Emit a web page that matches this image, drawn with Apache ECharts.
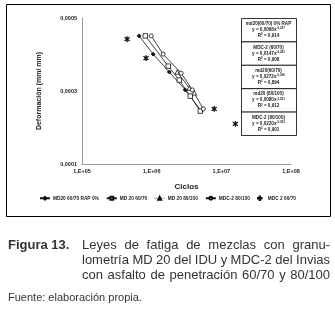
<!DOCTYPE html>
<html><head><meta charset="utf-8">
<script src="https://cdn.jsdelivr.net/npm/echarts@6/dist/echarts.min.js"></script>
<style>html,body{margin:0;padding:0;background:#fff}#c{width:335px;height:312px}</style>
</head><body><div id="c"></div>
<script>
var seriesNames = ['MD20 60/70 RAP 0%', 'MD 20 60/70', 'MD 20 80/100', 'MDC-2 80/100', 'MDC 2 60/70'];
var rap0 = [[6.6e5, 0.000451], [1.05e6, 0.000401], [1.79e6, 0.000352], [3.03e6, 0.000303], [5.15e6, 0.000245]];
var md2060 = [[8.1e5, 0.000451], [1.73e6, 0.000368], [2.49e6, 0.000330], [3.58e6, 0.000286], [4.99e6, 0.000245]];
var md2080 = [[2.33e6, 0.000352], [3.47e6, 0.000308], [4.09e6, 0.000295]];
var mdc280 = [[9.85e5, 0.000451], [1.46e6, 0.000401], [2.65e6, 0.000349], [3.83e6, 0.000303], [5.51e6, 0.000251]];
var mdc260 = [[4.44e5, 0.000442], [8.3e5, 0.000390], [7.9e6, 0.000251], [1.59e7, 0.000210]];
var yTicks = [0.0001, 0.0003, 0.0005];
var boxTitles = ['md20(60/70) 0% RAP', 'MDC-2 (60/70)', 'md20(60/70)', 'md20 (80/100)', 'MDC-2 (80/100)'];
var boxCoef = ['0,0068', '0,0147', '0,0272', '0,0080', '0,0220'];
var boxExp = ['-0,227', '-0,281', '-0,306', '-0,251', '-0,303'];
var boxR2 = ['0,914', '0,908', '0,894', '0,912', '0,901'];
var captionLines = ['Leyes de fatiga de mezclas con granu-', 'lometría MD 20 del IDU y MDC-2 del Invias', 'con asfalto de penetración 60/70 y 80/100'];

var chart = echarts.init(document.getElementById('c'));
var F = 'Liberation Sans, Arial, sans-serif';
var ast = 'path://M4.4,0h1.2v10h-1.2z M0.2,2.2 L0.8,1.2 L9.8,7.8 L9.2,8.8z M0.2,7.8 L0.8,8.8 L9.8,2.2 L9.2,1.2z';

var graphics = [
  {type:'rect', shape:{x:6.5, y:4.5, width:324, height:212}, style:{fill:'none', stroke:'#000', lineWidth:1}, silent:true},
];
var bx = 241, by = 18, bw = 55, ch = 23.4;
for (var i = 0; i < 5; i++) {
  graphics.push({type:'rect', shape:{x:bx+0.5, y:by+i*ch+0.5, width:bw, height:ch}, style:{fill:'#fff', stroke:'#000', lineWidth:0.8}, z:10});
  graphics.push({type:'text', x:bx+bw/2, y:by+i*ch+3.5, z:11, style:{text:boxTitles[i], font:'bold 4.6px ' + F, fill:'#222', align:'center'}});
  graphics.push({type:'text', x:bx+bw/2, y:by+i*ch+9, z:11, style:{
    text:'{a|y = ' + boxCoef[i] + 'x}{s|' + boxExp[i] + '}', align:'center', fill:'#222',
    rich:{a:{font:'bold 4.6px ' + F, fill:'#222'}, s:{font:'bold 3px ' + F, fill:'#222', verticalAlign:'top', padding:[0,0,3,0]}}}});
  graphics.push({type:'text', x:bx+bw/2, y:by+i*ch+15, z:11, style:{
    text:'{a|R}{s|2}{a| = ' + boxR2[i] + '}', align:'center', fill:'#222',
    rich:{a:{font:'bold 4.6px ' + F, fill:'#222'}, s:{font:'bold 3px ' + F, fill:'#222', padding:[0,0,3,0]}}}});
}
var capFont = '13px ' + F;
graphics.push({type:'text', x:8, y:239, style:{text:'Figura 13.', font:'bold 13px ' + F, fill:'#333'}});
var cv = document.createElement('canvas').getContext('2d');
cv.font = capFont;
var capLeft = 82, capRight = 330;
for (var j = 0; j < captionLines.length; j++) {
  var words = captionLines[j].split(' ');
  var widths = words.map(function(w){ return cv.measureText(w).width; });
  var total = widths.reduce(function(a,b){return a+b;}, 0);
  var gap = (capRight - capLeft - total) / (words.length - 1);
  var xx = capLeft;
  for (var k = 0; k < words.length; k++) {
    graphics.push({type:'text', x:xx, y:239 + j*15, style:{text:words[k], font:capFont, fill:'#333'}});
    xx += widths[k] + gap;
  }
}
graphics.push({type:'text', x:8, y:292, style:{text:'Fuente: elaboración propia.', font:'11px ' + F, fill:'#333'}});

function mk(name, data, sym, size, fill, lineOn) {
  return {
    name:name, type:'line', data:data, symbol:sym, symbolSize:size, showSymbol:true,
    lineStyle:{color:'#111', width:lineOn ? 0.8 : 0, opacity:lineOn ? 1 : 0},
    itemStyle:{color:fill, borderColor:'#111', borderWidth:0.8},
    animation:false, z:3
  };
}

chart.setOption({
  animation:false,
  textStyle:{fontFamily:F},
  grid:{left:82, right:44, top:18, bottom:148, containLabel:false},
  xAxis:{
    type:'log', logBase:10, min:1e5, max:1e8,
    name:'Ciclos', nameLocation:'middle', nameGap:19,
    nameTextStyle:{color:'#222', fontWeight:'bold', fontSize:8},
    axisLine:{lineStyle:{color:'#999', width:1}}, axisTick:{show:false}, splitLine:{show:false},
    axisLabel:{fontSize:5.5, fontWeight:'bold', color:'#222', margin:4,
      formatter:function(v){var e=Math.round(Math.log10(v)); return '1,E+' + (e<10?'0':'') + e;}}
  },
  yAxis:{
    type:'value', min:0.0001, max:0.0005, interval:0.0001,
    name:'Deformación (mm/ mm)', nameLocation:'middle', nameGap:39, nameRotate:90,
    nameTextStyle:{fontSize:7, fontWeight:'bold', color:'#222'},
    axisLine:{show:true, lineStyle:{color:'#999', width:1}}, axisTick:{show:false}, splitLine:{show:false},
    axisLabel:{fontSize:5.5, fontWeight:'bold', color:'#222', margin:5,
      formatter:function(v){
        for (var k=0;k<yTicks.length;k++){ if (Math.abs(v-yTicks[k])<1e-9) return yTicks[k].toFixed(4).replace('.', ','); }
        return '';
      }}
  },
  legend:{
    bottom:106, left:'center', itemWidth:10, itemHeight:3.5, itemGap:7,
    textStyle:{fontSize:4.8, fontWeight:'bold', color:'#222', padding:[0,0,0,-2]},
    data:[
      {name:seriesNames[0]}, {name:seriesNames[1]},
      {name:seriesNames[2], lineStyle:{type:'dotted', width:0.8}},
      {name:seriesNames[3]},
      {name:seriesNames[4], icon:'path://M0,4.4h10v1.2h-10z M4.4,0h1.2v10h-1.2z', itemStyle:{color:'#111'}}
    ]
  },
  series:[
    mk(seriesNames[0], rap0, 'diamond', 4, '#111', true),
    mk(seriesNames[1], md2060, 'rect', 4.5, '#fff', true),
    mk(seriesNames[2], md2080, 'triangle', 4.5, '#fff', true),
    mk(seriesNames[3], mdc280, 'circle', 4, '#fff', true),
    mk(seriesNames[4], mdc260, ast, 5, '#111', false)
  ],
  graphic:graphics
});
</script></body></html>
